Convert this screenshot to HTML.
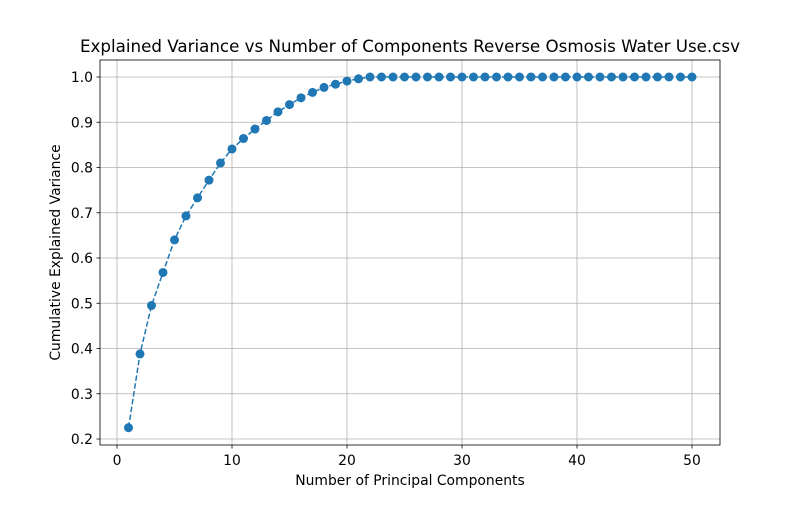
<!DOCTYPE html>
<html><head><meta charset="utf-8">
<style>
body{margin:0;background:#fff;}
svg text{font-family:"DejaVu Sans","Liberation Sans",sans-serif;fill:#000;}
</style></head>
<body>
<svg id="chart" width="800" height="500" viewBox="0 0 800 500" xmlns="http://www.w3.org/2000/svg">
<rect x="0" y="0" width="800" height="500" fill="#fff"/>
<g id="grid"></g>
<g id="series"></g>
<rect x="100" y="60" width="620" height="385" fill="none" stroke="#000" stroke-width="0.8"/>
<g id="axes"></g>
<text x="410" y="52" font-size="16.7" text-anchor="middle">Explained Variance vs Number of Components Reverse Osmosis Water Use.csv</text>
<text x="410" y="485" font-size="13.9" text-anchor="middle">Number of Principal Components</text>
<text x="0" y="0" font-size="13.9" text-anchor="middle" transform="translate(60,252.5) rotate(-90)">Cumulative Explained Variance</text>
</svg>
<script>
const components = Array.from({length:50},(_,i)=>i+1);
const cumVariance = [0.225,0.388,0.495,0.568,0.640,0.693,0.733,0.772,0.810,0.841,0.864,0.885,0.904,0.923,0.939,0.954,0.966,0.977,0.984,0.991,0.996,1,1,1,1,1,1,1,1,1,1,1,1,1,1,1,1,1,1,1,1,1,1,1,1,1,1,1,1,1];
const xTicks = [0,10,20,30,40,50];
const yTicks = [0.2,0.3,0.4,0.5,0.6,0.7,0.8,0.9,1.0];

const NS="http://www.w3.org/2000/svg";
const xs = v => 117 + (v-0)*11.5;
const ys = v => 439 - (v-0.2)*452.5;
function mk(tag, attrs, parent){const e=document.createElementNS(NS,tag);for(const k in attrs)e.setAttribute(k,attrs[k]);parent.appendChild(e);return e;}
const grid=document.getElementById('grid'), axes=document.getElementById('axes'), series=document.getElementById('series');
xTicks.forEach(t=>{
  const x=xs(t);
  const g=mk('line',{x1:x,x2:x,y1:60,y2:445,stroke:'#b0b0b0','stroke-width':0.8},grid);
  
  
  const tk=mk('line',{x1:x,x2:x,y1:445,y2:448.5,stroke:'#000','stroke-width':0.8},axes);
  
  
  const lb=mk('text',{x:x,y:465,'font-size':13.9,'text-anchor':'middle'},axes);
  lb.textContent=t;
  
  
});
yTicks.forEach(t=>{
  const y=ys(t);
  const g=mk('line',{x1:100,x2:720,y1:y,y2:y,stroke:'#b0b0b0','stroke-width':0.8},grid);
  
  
  const tk=mk('line',{x1:96.5,x2:100,y1:y,y2:y,stroke:'#000','stroke-width':0.8},axes);
  
  
  const lb=mk('text',{x:93,y:y+5,'font-size':13.9,'text-anchor':'end'},axes);
  lb.textContent=t.toFixed(1);
  
  
});
const pts=components.map((c,i)=>xs(c)+','+ys(cumVariance[i])).join(' ');
const line=mk('polyline',{points:pts,fill:'none',stroke:'#1f77b4','stroke-width':1.5,'stroke-dasharray':'5.5,2.4'},series);


components.forEach((c,i)=>{
  const p=mk('circle',{cx:xs(c),cy:ys(cumVariance[i]),r:4.5,fill:'#1f77b4'},series);
  
  
});
</script>
</body></html>
